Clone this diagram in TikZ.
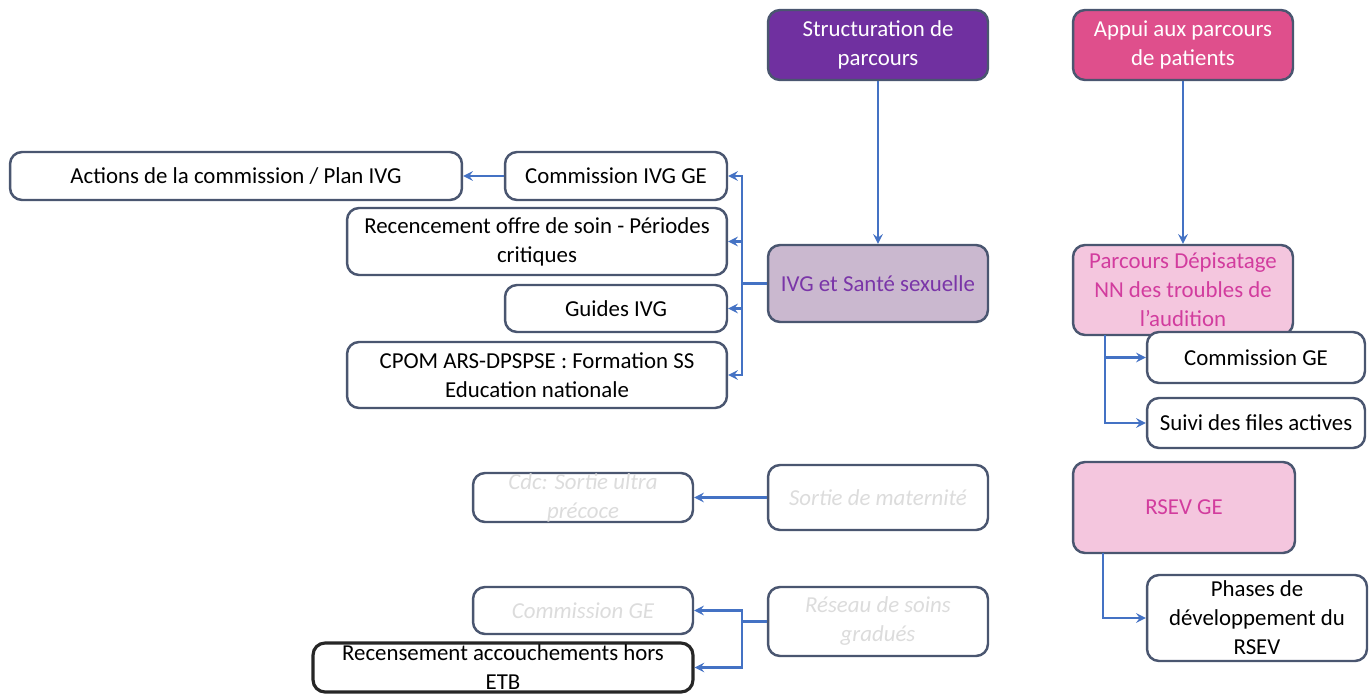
\documentclass[tikz,border=0pt]{standalone}
\usepackage{fontspec}
\setmainfont{Carlito}
\usetikzlibrary{arrows,positioning}
\definecolor{boxline}{HTML}{4A5670}
\definecolor{linkblue}{HTML}{4472C4}
\definecolor{structfill}{HTML}{7030A0}
\definecolor{appuifill}{HTML}{DF4F8C}
\definecolor{ivgfill}{HTML}{CAB8CF}
\definecolor{ivgtext}{HTML}{7A35A8}
\definecolor{pinkfill}{HTML}{F4C6DE}
\definecolor{pinktext}{HTML}{D23C9E}
\definecolor{fadetext}{HTML}{DCDCDC}
\tikzstyle{box} = [rectangle, rounded corners=0.24cm, draw=boxline, line width=1.4pt, fill=white, align=center, inner sep=0pt, font=\fontsize{13}{16.5}\selectfont]
\tikzstyle{head} = [box, text=white, minimum width=4.4cm, minimum height=1.4cm]
\tikzstyle{faded} = [box, text=fadetext, font=\fontsize{13}{16.5}\selectfont\itshape]
\tikzstyle{arrow} = [line width=1.4pt, draw=linkblue, ->, >=stealth]
\tikzstyle{link} = [line width=1.4pt, draw=linkblue]

\begin{document}
\begin{tikzpicture}[x=0.02cm, y=-0.02cm]
\useasboundingbox (0,0) rectangle (1370,694);
% axes du haut
\node (struct) [head, fill=structfill] at (878,45) {Structuration de\\parcours};
\node (appui) [head, fill=appuifill] at (1183,45) {Appui aux parcours\\de patients};
\node (ivg) [box, fill=ivgfill, text=ivgtext, minimum width=4.4cm, minimum height=1.54cm] at (878,283.5) {IVG et Santé sexuelle};
\node (depist) [box, fill=pinkfill, text=pinktext, minimum width=4.4cm, minimum height=1.8cm] at (1183,290) {Parcours Dépisatage\\NN des troubles de\\l'audition};
% branche IVG
\node (comivg) [box, minimum width=4.44cm, minimum height=0.96cm] at (616,176) {Commission IVG GE};
\node (actions) [box, minimum width=9.04cm, minimum height=0.96cm] at (236,176) {Actions de la commission / Plan IVG};
\node (recenc) [box, minimum width=7.6cm, minimum height=1.34cm] at (537,241.5) {Recencement offre de soin - Périodes\\critiques};
\node (guides) [box, minimum width=4.44cm, minimum height=0.94cm] at (616,308.5) {Guides IVG};
\node (cpom) [box, minimum width=7.6cm, minimum height=1.32cm] at (537,375) {CPOM ARS-DPSPSE : Formation SS\\Education nationale};
% branche audition
\node (comge) [box, minimum width=4.36cm, minimum height=1.02cm] at (1256,357.5) {Commission GE};
\node (suivi) [box, minimum width=4.36cm, minimum height=1cm] at (1256,423) {Suivi des files actives};
\node (rsev) [box, fill=pinkfill, text=pinktext, minimum width=4.44cm, minimum height=1.82cm] at (1184,507.5) {RSEV GE};
\node (phases) [box, minimum width=4.4cm, minimum height=1.72cm] at (1257,618) {Phases de\\développement du\\RSEV};
% partie estompée
\node (sortie) [faded, minimum width=4.4cm, minimum height=1.3cm] at (878,497.5) {Sortie de maternité};
\node (cdc) [faded, minimum width=4.4cm, minimum height=0.98cm] at (583,497.5) {Cdc: Sortie ultra\\précoce};
\node (reseau) [faded, minimum width=4.4cm, minimum height=1.38cm] at (878,621.5) {Réseau de soins\\gradués};
\node (comgeb) [faded, minimum width=4.4cm, minimum height=0.94cm] at (583,610.5) {Commission GE};
\node (recens) [box, draw=black!85, line width=1.8pt, minimum width=7.6cm, minimum height=0.98cm] at (503,667.5) {Recensement accouchements hors\\ETB};
\coordinate (bus) at (742,283.5);
\coordinate (dbus) at (1105,335);
\coordinate (rbus) at (1103,553);
\coordinate (sbus) at (742,621.5);
% liaisons
\draw [arrow] (struct) -- (ivg);
\draw [arrow] (appui) -- (depist);
\draw [link] (ivg) -- (bus);
\draw [arrow] (bus) |- (comivg);
\draw [arrow] (bus) |- (recenc);
\draw [arrow] (bus) |- (guides);
\draw [arrow] (bus) |- (cpom);
\draw [arrow] (comivg) -- (actions);
\draw [arrow] (dbus) |- (comge);
\draw [arrow] (dbus) |- (suivi);
\draw [arrow] (rbus) |- (phases);
\draw [arrow] (sortie) -- (cdc);
\draw [link] (reseau) -- (sbus);
\draw [arrow] (sbus) |- (comgeb);
\draw [arrow] (sbus) |- (recens);
\end{tikzpicture}
\end{document}
